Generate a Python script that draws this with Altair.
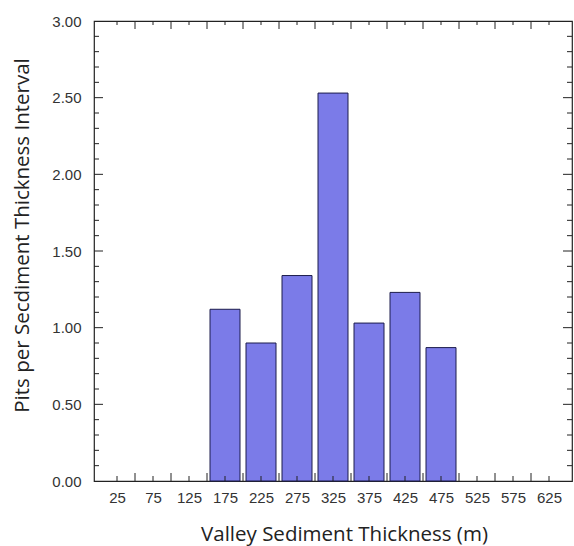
import altair as alt
import pandas as pd

# Data
categories = [25, 75, 125, 175, 225, 275, 325, 375, 425, 475, 525, 575, 625]
values = [0, 0, 0, 1.12, 0.90, 1.34, 2.53, 1.03, 1.23, 0.87, 0, 0, 0]
x_major_ticks = [50, 100, 150, 200, 250, 300, 350, 400, 450, 500, 550, 600]
y_major_ticks = [0.5, 1.0, 1.5, 2.0, 2.5]
y_minor_ticks = [0.1, 0.2, 0.3, 0.4, 0.6, 0.7, 0.8, 0.9, 1.1, 1.2, 1.3, 1.4,
                 1.6, 1.7, 1.8, 1.9, 2.1, 2.2, 2.3, 2.4, 2.6, 2.7, 2.8, 2.9]
y_labels = [0.0, 0.5, 1.0, 1.5, 2.0, 2.5, 3.0]

W, H = 478, 460

bars_df = pd.DataFrame({"thick": categories, "pits": values})
bars_df = bars_df[bars_df["pits"] > 0]
xmaj = pd.DataFrame({"thick": x_major_ticks})
xmin = pd.DataFrame({"thick": categories})
ymaj = pd.DataFrame({"pits": y_major_ticks})
ymin = pd.DataFrame({"pits": y_minor_ticks})

xscale = alt.Scale(domain=[0, 650], nice=False, zero=False)
yscale = alt.Scale(domain=[0, 3], nice=False)

label_font = "Liberation Sans"
title_font = "Open Sans"

xaxis = alt.Axis(values=categories, ticks=False, domain=False, grid=False,
                 labelFont=label_font, labelFontSize=15, labelColor="#333333",
                 labelPadding=9, labelFlush=False, labelOverlap=False,
                 title="Valley Sediment Thickness (m)",
                 titleFont=title_font, titleFontSize=20.5, titleFontWeight="normal",
                 titleColor="#222222", titleX=250, titleY=53,
                 titleBaseline="middle", titleAlign="center")
yaxis = alt.Axis(values=y_labels, format=".2f", ticks=False, domain=False, grid=False,
                 labelFont=label_font, labelFontSize=15, labelColor="#333333",
                 labelPadding=13,
                 title="Pits per Secdiment Thickness Interval",
                 titleFont=title_font, titleFontSize=20.5, titleFontWeight="normal",
                 titleColor="#222222", titleX=-72, titleY=214, titleAngle=270,
                 titleBaseline="middle", titleAlign="center")

bars = alt.Chart(bars_df).mark_bar(
    size=30, color="#7b7be8", stroke="#1c1c4c", strokeWidth=1
).encode(
    x=alt.X("thick:Q", scale=xscale, axis=xaxis),
    y=alt.Y("pits:Q", scale=yscale, axis=yaxis),
)

def xrule(df, y0, y1):
    return alt.Chart(df).mark_rule(color="#222222", strokeWidth=1).encode(
        x=alt.X("thick:Q", scale=xscale, axis=xaxis),
        y=alt.value(y0), y2=alt.value(y1))

def yrule(df, x0, x1):
    return alt.Chart(df).mark_rule(color="#222222", strokeWidth=1).encode(
        y=alt.Y("pits:Q", scale=yscale, axis=yaxis),
        x=alt.value(x0), x2=alt.value(x1))

layers = [
    bars,
    xrule(xmaj, H, H - 8), xrule(xmin, H, H - 5),
    xrule(xmaj, 0, 8), xrule(xmin, 0, 4),
    yrule(ymaj, 0, 9), yrule(ymin, 0, 5),
    yrule(ymaj, W, W - 9), yrule(ymin, W, W - 5),
]

chart = alt.layer(*layers).properties(
    width=W, height=H,
    autosize=alt.AutoSizeParams(type="none"),
    padding={"left": 94, "top": 21, "right": 2, "bottom": 65},
    background="white",
).configure_view(stroke="#222222", strokeWidth=1.2)

chart.save("out.html", embed_options={"renderer": "svg", "actions": False})
